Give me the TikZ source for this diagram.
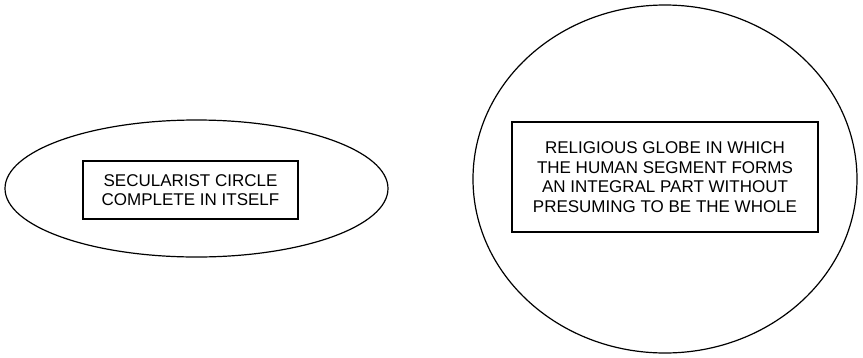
\documentclass[tikz,border=0pt]{standalone}
\usepackage{fontspec}
\setmainfont{Liberation Sans}
\usepackage{tikz}
\usetikzlibrary{shapes.geometric}

\begin{document}
\begin{tikzpicture}[
  x=1pt, y=-1pt,
  font=\fontsize{17}{19.7}\selectfont,
  outline/.style={draw, line width=1.2pt, ellipse, inner sep=0pt},
  box/.style={draw, line width=1.1pt, align=center, inner sep=0pt}
]
\useasboundingbox (0,0) rectangle (863,357);

\node[outline, minimum width=383pt, minimum height=137pt] (secular) at (196.5,188.5) {};
\node[box, minimum width=215pt, minimum height=58pt] (seclabel) at (190.5,190)
  {SECULARIST CIRCLE\\COMPLETE IN ITSELF};

\node[outline, minimum width=384pt, minimum height=348pt] (globe) at (665,179) {};
\node[box, minimum width=306pt, minimum height=110pt] (globelabel) at (665,177)
  {RELIGIOUS GLOBE IN WHICH\\THE HUMAN SEGMENT FORMS\\AN INTEGRAL PART WITHOUT\\PRESUMING TO BE THE WHOLE};
\end{tikzpicture}
\end{document}
